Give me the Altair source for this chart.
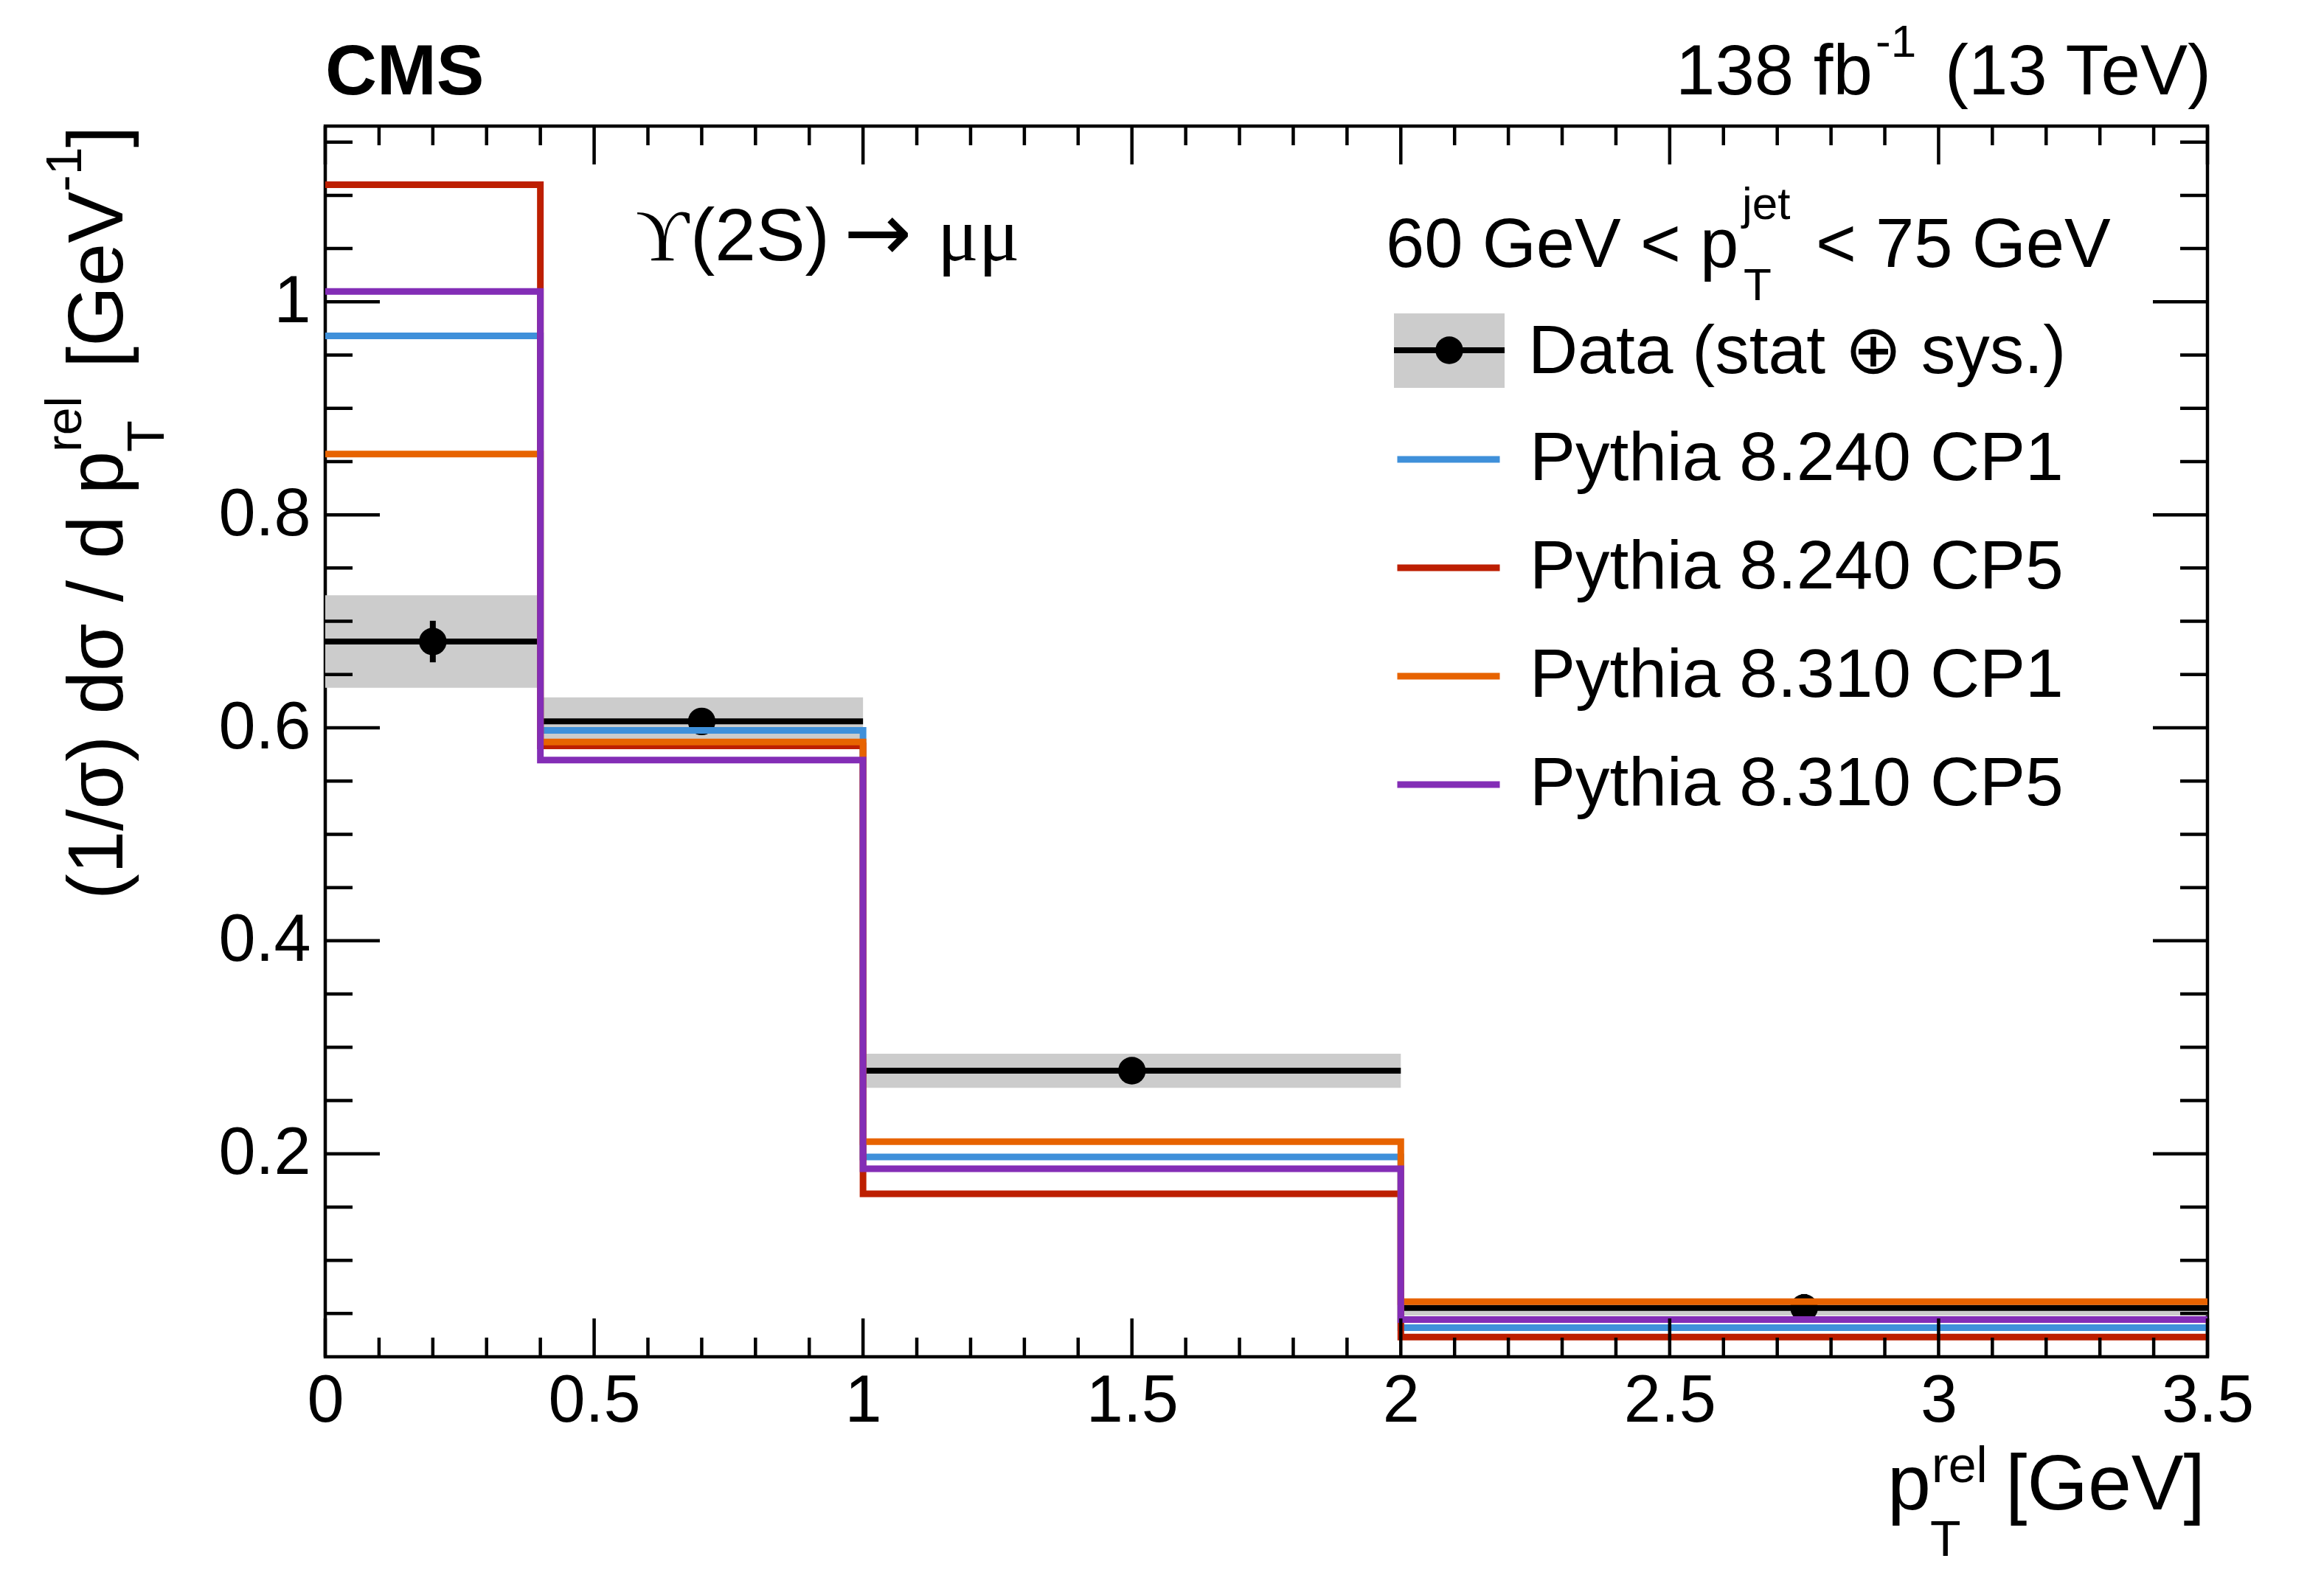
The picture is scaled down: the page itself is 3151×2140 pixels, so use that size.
import altair as alt
import pandas as pd

FONT = "Liberation Sans"
SERIF = "Liberation Serif"

# ---------------- data ----------------
bin_lo = [0.0, 0.4, 1.0, 2.0]
bin_hi = [0.4, 1.0, 2.0, 3.5]
bin_center = [0.2, 0.7, 1.5, 2.75]
data_vals = [0.681, 0.606, 0.278, 0.0553]
tot_unc = [0.0435, 0.0225, 0.016, 0.0072]
stat_unc = [0.0195, 0.012, 0.010, 0.013]

series_names = ["Pythia 8.240 CP1", "Pythia 8.240 CP5", "Pythia 8.310 CP1", "Pythia 8.310 CP5"]
series_colors = ["#3f90da", "#bd1f01", "#e76300", "#832db6"]
mc_8240_cp1 = [0.968, 0.5975, 0.197, 0.0368]
mc_8240_cp5 = [1.110, 0.583, 0.1624, 0.0279]
mc_8310_cp1 = [0.857, 0.5866, 0.2114, 0.0612]
mc_8310_cp5 = [1.0097, 0.5697, 0.1859, 0.0444]
mc_series = [mc_8240_cp1, mc_8240_cp5, mc_8310_cp1, mc_8310_cp5]

x_major = [0, 0.5, 1, 1.5, 2, 2.5, 3, 3.5]
x_minor = [round(i * 0.1, 2) for i in range(36) if i % 5 != 0]
y_major = [0.2, 0.4, 0.6, 0.8, 1.0]
y_minor = [round(i * 0.05, 3) for i in range(1, 24) if i % 4 != 0]

X_DOMAIN = [0, 3.5]
Y_DOMAIN = [0.0094, 1.165]

W, H = 2552, 1669

# ---------------- frames ----------------
data_df = pd.DataFrame({
    "lo": bin_lo, "hi": bin_hi, "c": bin_center, "v": data_vals,
    "tlo": [v - e for v, e in zip(data_vals, tot_unc)],
    "thi": [v + e for v, e in zip(data_vals, tot_unc)],
    "slo": [v - e for v, e in zip(data_vals, stat_unc)],
    "shi": [v + e for v, e in zip(data_vals, stat_unc)],
})

rows = []
edges = bin_lo + [bin_hi[-1]]
for name, vals in zip(series_names, mc_series):
    ys = vals + [vals[-1]]
    for e, yv in zip(edges, ys):
        rows.append({"series": name, "x": e, "y": yv})
mc_df = pd.DataFrame(rows)

xs = alt.Scale(domain=X_DOMAIN, nice=False, zero=False)
ysc = alt.Scale(domain=Y_DOMAIN, nice=False, zero=False)

AX_X = alt.Axis(values=x_major, format="~g", labelFontSize=90, labelFont=FONT,
                labelColor="black", labelPadding=16, ticks=False, tickSize=0,
                domain=False, grid=False, title=None, labelFlush=False,
                labelOverlap=False)
AX_Y = alt.Axis(values=y_major, format="~g", labelFontSize=90, labelFont=FONT,
                labelColor="black", labelPadding=20, ticks=False, tickSize=0,
                domain=False, grid=False, title=None, labelOverlap=False)

def X(field):
    return alt.X(field, type="quantitative", scale=xs, axis=AX_X)

def Y(field):
    return alt.Y(field, type="quantitative", scale=ysc, axis=AX_Y)

base = alt.Chart(data_df)

band = base.mark_rect(color="#cccccc", opacity=1).encode(
    x=X("lo"), x2="hi", y=Y("tlo"), y2="thi")
xerr = base.mark_rule(color="black", strokeWidth=8).encode(
    x=X("lo"), x2="hi", y=Y("v"))
yerr = base.mark_rule(color="black", strokeWidth=8).encode(
    x=X("c"), y=Y("slo"), y2="shi")
pts = base.mark_circle(color="black", opacity=1, size=1400).encode(
    x=X("c"), y=Y("v"))

mc = alt.Chart(mc_df).mark_line(interpolate="step-after", strokeWidth=9,
                                strokeJoin="miter").encode(
    x=X("x"), y=Y("y"),
    color=alt.Color("series:N",
                    scale=alt.Scale(domain=series_names, range=series_colors),
                    legend=alt.Legend(orient="none", legendX=1449, legendY=378,
                                      title=None, symbolType="stroke",
                                      symbolSize=19321, symbolStrokeWidth=9,
                                      labelFontSize=93, labelFont=FONT,
                                      labelColor="black", labelOffset=36,
                                      labelLimit=3000, padding=0, rowPadding=26,
                                      symbolOpacity=1)),
    order=alt.Order("x:Q"),
)

# ---------------- inner ticks ----------------
def tick_layer(vals, axis, side, length):
    df = pd.DataFrame({"t": vals})
    ch = alt.Chart(df).mark_rule(color="black", strokeWidth=4.5)
    if axis == "x":
        if side == "bottom":
            return ch.encode(x=X("t"), y=alt.value(H), y2=alt.value(H - length))
        return ch.encode(x=X("t"), y=alt.value(0), y2=alt.value(length))
    if side == "left":
        return ch.encode(y=Y("t"), x=alt.value(0), x2=alt.value(length))
    return ch.encode(y=Y("t"), x=alt.value(W), x2=alt.value(W - length))

ticks = [
    tick_layer(x_major, "x", "bottom", 52), tick_layer(x_minor, "x", "bottom", 26),
    tick_layer(x_major, "x", "top", 52), tick_layer(x_minor, "x", "top", 26),
    tick_layer(y_major, "y", "left", 74), tick_layer(y_minor, "y", "left", 37),
    tick_layer(y_major, "y", "right", 74), tick_layer(y_minor, "y", "right", 37),
]

# ---------------- texts ----------------
one = pd.DataFrame({"a": [0]})

def txt(s, x, y, size, align="left", font=FONT, weight=None, angle=None):
    kw = dict(text=s, fontSize=size, font=font, align=align,
              baseline="alphabetic", color="black")
    if weight:
        kw["fontWeight"] = weight
    if angle is not None:
        kw["angle"] = angle
    return alt.Chart(one).mark_text(**kw).encode(x=alt.value(x), y=alt.value(y))

texts = [
    txt("CMS", 0, -43, 97, weight="bold"),
    txt("138 fb", 1831, -43, 96),
    txt("-1", 2102, -94, 62),
    txt("(13 TeV)", 2557, -43, 96, align="right"),
    # process label
    txt("\u03d2", 421, 182, 100, font=SERIF),
    txt("(2S)", 495, 182, 100),
    txt("\u2192", 703, 182, 110, font="DejaVu Sans"),
    txt("\u03bc\u03bc", 830, 182, 104, font=SERIF),
    # legend header
    txt("60 GeV < p", 1438, 191, 94),
    txt("jet", 1921, 126, 62),
    txt("T", 1923, 236, 62),
    txt("< 75 GeV", 2021, 191, 94),
    # data legend entry text
    txt("Data (stat \u2295 sys.)", 1631, 335, 93),
    # x title
    txt("p", 2118, 1876, 106),
    txt("rel", 2178, 1839, 68),
    txt("T", 2176, 1939, 68),
    txt("[GeV]", 2549, 1876, 106, align="right"),
    # y title (rotated)
    txt("(1/\u03c3) d\u03c3 / d p", -275, 1049, 105, angle=270),
    txt("rel", -331, 442, 68, angle=270),
    txt("T", -219, 442, 70, angle=270),
    txt("[GeV", -275, 328, 105, angle=270),
    txt("-1", -331, 89, 68, angle=270),
    txt("]", -275, 29, 105, angle=270),
]

# data legend symbol
leg_box = alt.Chart(one).mark_rect(color="#cccccc").encode(
    x=alt.value(1449), x2=alt.value(1599), y=alt.value(254), y2=alt.value(355))
leg_line = alt.Chart(one).mark_rule(color="black", strokeWidth=8).encode(
    x=alt.value(1449), x2=alt.value(1599), y=alt.value(304))
leg_pt = alt.Chart(one).mark_circle(color="black", opacity=1, size=1400).encode(
    x=alt.value(1524), y=alt.value(304))

chart = alt.layer(
    band, xerr, yerr, pts, mc, *ticks, leg_box, leg_line, leg_pt, *texts
).properties(
    width=W, height=H,
    padding={"left": 433, "top": 163, "right": 140, "bottom": 290},
    autosize=alt.AutoSizeParams(type="none"),
    background="white",
).configure_view(
    stroke="black", strokeWidth=4.5
)

chart.save("out.html", embed_options={"renderer": "svg", "actions": False})
